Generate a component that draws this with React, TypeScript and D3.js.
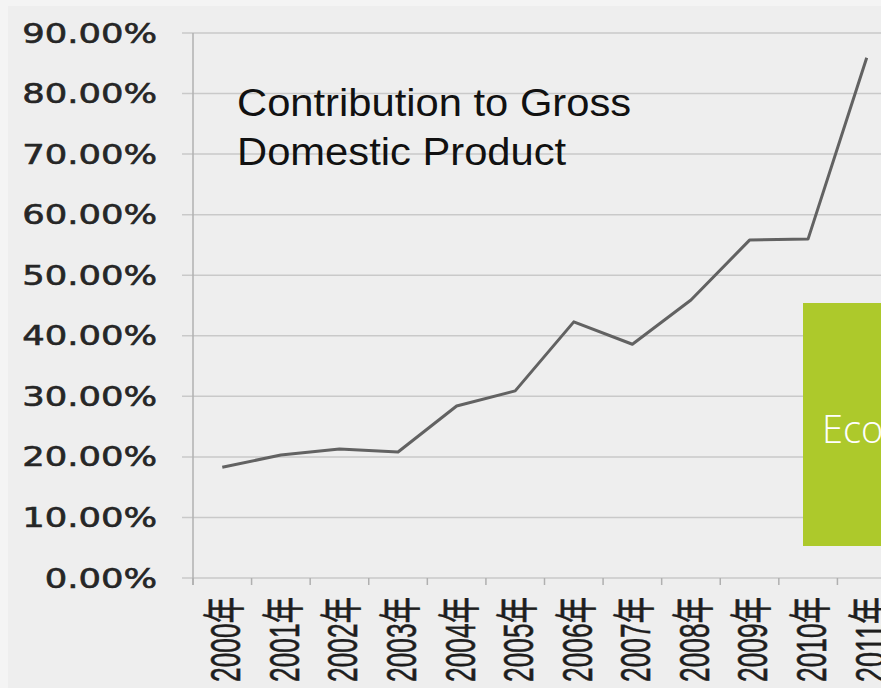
import React from "react";
import * as d3 from "d3";

const years = ["2000", "2001", "2002", "2003", "2004", "2005", "2006", "2007", "2008", "2009", "2010", "2011"];
const gdpShare = [0.183, 0.203, 0.213, 0.208, 0.284, 0.309, 0.423, 0.386, 0.459, 0.558, 0.56, 0.859];
const yTicks = [0, 0.1, 0.2, 0.3, 0.4, 0.5, 0.6, 0.7, 0.8, 0.9];
const titleLines = ["Contribution to Gross", "Domestic Product"];
const overlayText = "Eco";

export default function App() {
  const W = 881, H = 688;
  const x = d3.scaleBand<string>().domain(years).range([193, 896]).padding(0);
  const y = d3.scaleLinear().domain([0, 0.9]).range([578, 33]);
  const line = d3
    .line<number>()
    .x((_, i) => (x(years[i]) as number) + x.bandwidth() / 2)
    .y((d) => y(d));
  const fmt = (v: number) => (v * 100).toFixed(2) + "%";
  const boundaries = years.map((yr) => x(yr) as number).concat([(x(years[years.length - 1]) as number) + x.bandwidth()]);

  return (
    <svg width={W} height={H} style={{ position: "absolute", left: 0, top: 0, display: "block" }}>
      <rect x={0} y={0} width={W} height={H} fill="#f4f4f4" />
      <rect x={8} y={6} width={W - 8} height={H - 6} fill="#eeeeee" />
      {/* gridlines */}
      {yTicks.map((t) => (
        <line key={"g" + t} x1={182} x2={W} y1={y(t)} y2={y(t)} stroke="#c9c9c9" strokeWidth={1.5} />
      ))}
      {/* y axis */}
      <line x1={193} x2={193} y1={y(0.9)} y2={585} stroke="#b0b0b0" strokeWidth={1.5} />
      {/* x ticks */}
      {boundaries.map((bx, i) => (
        <line key={"t" + i} x1={bx} x2={bx} y1={578} y2={585} stroke="#b0b0b0" strokeWidth={1.5} />
      ))}
      {/* y labels */}
      {yTicks.map((t) => (
        <text
          key={"yl" + t}
          transform={`translate(157,${y(t) + 9.5}) scale(1.31,1)`}
          textAnchor="end"
          fontFamily="DejaVu Sans"
          fontSize={27}
          fill="#262626"
          stroke="#262626"
          strokeWidth={0.6}
        >
          {fmt(t)}
        </text>
      ))}
      {/* x labels */}
      {years.map((yr) => {
        const cx = (x(yr) as number) + x.bandwidth() / 2 + 2;
        return (
          <text
            key={"xl" + yr}
            transform={`translate(${cx},597) rotate(-90)`}
            textAnchor="end"
            dy="0.37em"
            fontFamily="Liberation Sans, 'Noto Sans CJK SC'"
            fontSize={43}
            fill="#1e1e1e"
            stroke="#1e1e1e"
            strokeWidth={0.6}
            textLength={85}
            lengthAdjust="spacingAndGlyphs"
          >
            {yr + "年"}
          </text>
        );
      })}
      {/* series line */}
      <path d={line(gdpShare) || ""} fill="none" stroke="#626262" strokeWidth={3} strokeLinejoin="round" />
      {/* title */}
      {titleLines.map((t, i) => (
        <text
          key={"ti" + i}
          transform={`translate(237,${116 + i * 49}) scale(1.07,1)`}
          fontFamily="Liberation Sans"
          fontSize={39}
          fill="#111"
        >
          {t}
        </text>
      ))}
      {/* green overlay */}
      <rect x={803} y={303} width={W - 803} height={243} fill="#adc92b" />
      <text x={822} y={443} fontFamily="Open Sans" fontWeight={300} fontSize={38} fill="#ffffff">
        {overlayText}
      </text>
    </svg>
  );
}
